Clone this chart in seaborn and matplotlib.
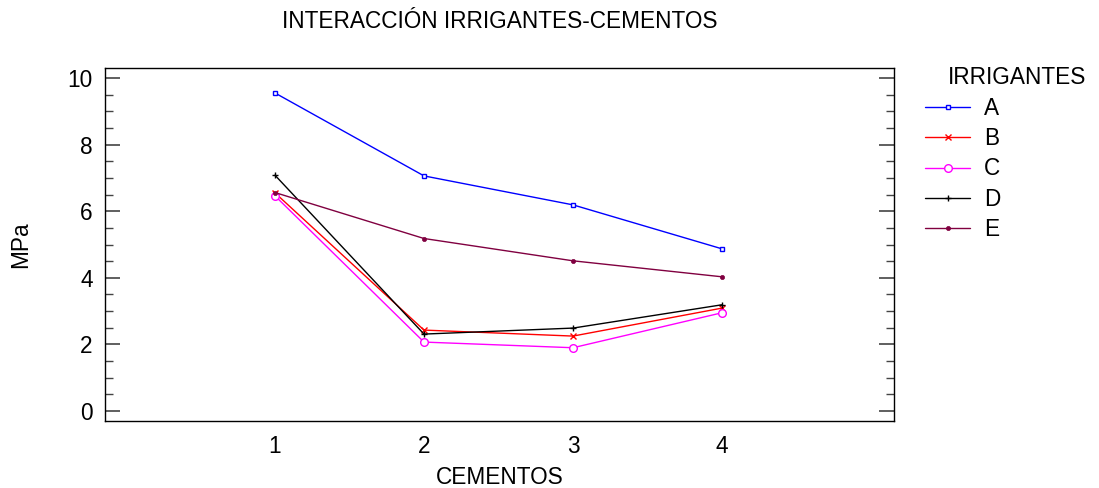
import matplotlib
matplotlib.use("Agg")
import matplotlib.pyplot as plt
from matplotlib.ticker import MultipleLocator
import seaborn as sns
import pandas as pd

# Mean bond strength (MPa) per irrigant across the four cements
cementos = [1, 2, 3, 4]
irrigantes = ["A", "B", "C", "D", "E"]
mpa_a = [9.55, 7.06, 6.19, 4.87]
mpa_b = [6.55, 2.43, 2.25, 3.09]
mpa_c = [6.46, 2.07, 1.90, 2.95]
mpa_d = [7.08, 2.31, 2.49, 3.19]
mpa_e = [6.56, 5.18, 4.51, 4.03]

colores = ["#0000ff", "#ff0000", "#ff00ff", "#000000", "#800040"]

rows = []
for nombre, valores in zip(irrigantes, [mpa_a, mpa_b, mpa_c, mpa_d, mpa_e]):
    for c, v in zip(cementos, valores):
        rows.append({"CEMENTOS": c, "MPa": v, "IRRIGANTES": nombre})
df = pd.DataFrame(rows)

sns.set_style("white")
plt.rcParams["font.family"] = ["Liberation Sans", "DejaVu Sans"]
plt.rcParams["text.color"] = "black"
plt.rcParams["axes.labelcolor"] = "black"

FS = 16.3

fig = plt.figure(figsize=(10.99, 4.88), dpi=100)
ax = fig.add_axes([105 / 1099, 1 - 421 / 488, (894 - 105) / 1099, (421 - 68) / 488])

estilos = {
    "A": dict(marker="s", markersize=3.3, markerfacecolor="white", markeredgewidth=1.0),
    "B": dict(marker="x", markersize=4.5, markeredgewidth=1.0),
    "C": dict(marker="o", markersize=5.5, markerfacecolor="white", markeredgewidth=1.0),
    "D": dict(marker="+", markersize=5, markeredgewidth=1.0),
    "E": dict(marker="o", markersize=3, markeredgewidth=0.5),
}

for nombre, color in zip(irrigantes, colores):
    sub = df[df["IRRIGANTES"] == nombre]
    sns.lineplot(data=sub, x="CEMENTOS", y="MPa", ax=ax, color=color,
                 linewidth=1.0, label=nombre, markeredgecolor=color,
                 **estilos[nombre])

ax.set_xlim(1 - 170 / 149, 4 + 172 / 149)
ax.set_ylim(-0.3, 10.3)
ax.set_xticks(cementos)
ax.yaxis.set_major_locator(MultipleLocator(2))
ax.yaxis.set_minor_locator(MultipleLocator(0.5))
ax.tick_params(axis="y", which="major", direction="in", length=11, width=1.2,
               color="#444444", labelcolor="black", left=True, right=True,
               labelsize=FS, pad=9)
ax.tick_params(axis="y", which="minor", direction="in", length=5.5, width=1.0,
               color="#444444", left=True, right=True)
ax.tick_params(axis="x", which="both", length=0, labelsize=FS, pad=10,
               labelcolor="black")

for s in ax.spines.values():
    s.set_visible(True)
    s.set_color("black")
    s.set_linewidth(1.0)

ax.set_xlabel("CEMENTOS", fontsize=FS, labelpad=6)
ax.set_ylabel("MPa", fontsize=FS, labelpad=25)
ax.set_title("INTERACCIÓN IRRIGANTES-CEMENTOS", fontsize=FS, pad=29)

ax.get_legend().remove()
handles, labels = ax.get_legend_handles_labels()
fig.legend(handles, labels, loc="upper left",
           bbox_to_anchor=(925 / 1099, 1 - 97 / 488), frameon=False,
           fontsize=FS, handlelength=2.0, handletextpad=0.6,
           labelspacing=0.32, borderpad=0, borderaxespad=0)
fig.text(948 / 1099, 1 - 77 / 488, "IRRIGANTES", fontsize=FS,
         ha="left", va="center")

fig.savefig("out.png", dpi=100)
